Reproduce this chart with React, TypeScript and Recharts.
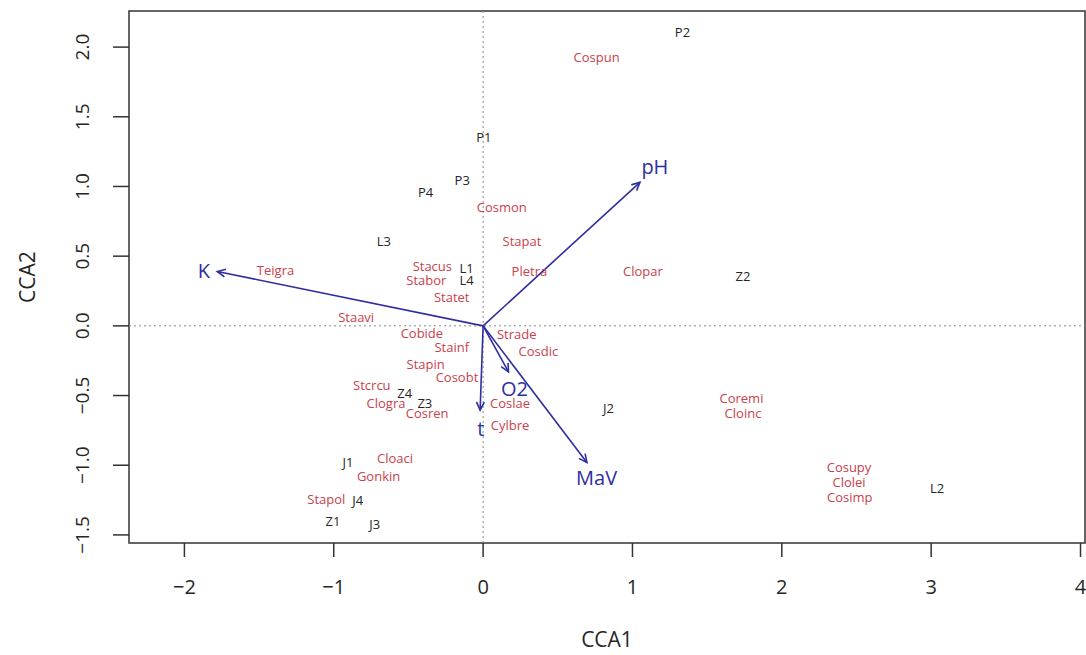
import { ReferenceArea, ReferenceLine, Scatter, ScatterChart, XAxis, YAxis } from 'recharts';

const X_DOMAIN: [number, number] = [-2.371, 4.03];
const Y_DOMAIN: [number, number] = [-1.558, 2.259];
const xTicks = [-2, -1, 0, 1, 2, 3, 4];
const yTicks = [-1.5, -1, -0.5, 0, 0.5, 1, 1.5, 2];

// species scores (red labels)
const species = [
  { name: 'Cospun', x: 0.76, y: 1.93 },
  { name: 'Cosmon', x: 0.125, y: 0.85 },
  { name: 'Stapat', x: 0.26, y: 0.61 },
  { name: 'Pletra', x: 0.31, y: 0.39 },
  { name: 'Clopar', x: 1.07, y: 0.39 },
  { name: 'Teigra', x: -1.39, y: 0.4 },
  { name: 'Stacus', x: -0.34, y: 0.43 },
  { name: 'Stabor', x: -0.38, y: 0.33 },
  { name: 'Statet', x: -0.21, y: 0.21 },
  { name: 'Staavi', x: -0.85, y: 0.06 },
  { name: 'Cobide', x: -0.41, y: -0.05 },
  { name: 'Stainf', x: -0.21, y: -0.155 },
  { name: 'Stapin', x: -0.385, y: -0.275 },
  { name: 'Cosobt', x: -0.175, y: -0.37 },
  { name: 'Stcrcu', x: -0.745, y: -0.425 },
  { name: 'Clogra', x: -0.65, y: -0.555 },
  { name: 'Cosren', x: -0.375, y: -0.625 },
  { name: 'Strade', x: 0.225, y: -0.06 },
  { name: 'Cosdic', x: 0.37, y: -0.18 },
  { name: 'Coslae', x: 0.18, y: -0.555 },
  { name: 'Cylbre', x: 0.18, y: -0.71 },
  { name: 'Coremi', x: 1.73, y: -0.52 },
  { name: 'Cloinc', x: 1.74, y: -0.625 },
  { name: 'Cosupy', x: 2.45, y: -1.01 },
  { name: 'Clolei', x: 2.45, y: -1.12 },
  { name: 'Cosimp', x: 2.455, y: -1.225 },
  { name: 'Cloaci', x: -0.59, y: -0.95 },
  { name: 'Gonkin', x: -0.7, y: -1.08 },
  { name: 'Stapol', x: -1.05, y: -1.245 },
];

// site scores (black labels)
const sites = [
  { name: 'P2', x: 1.335, y: 2.11 },
  { name: 'P1', x: 0.005, y: 1.355 },
  { name: 'P3', x: -0.14, y: 1.045 },
  { name: 'P4', x: -0.385, y: 0.96 },
  { name: 'L3', x: -0.665, y: 0.61 },
  { name: 'L1', x: -0.11, y: 0.415 },
  { name: 'L4', x: -0.11, y: 0.33 },
  { name: 'Z2', x: 1.74, y: 0.36 },
  { name: 'Z4', x: -0.525, y: -0.48 },
  { name: 'Z3', x: -0.39, y: -0.555 },
  { name: 'J2', x: 0.84, y: -0.59 },
  { name: 'L2', x: 3.04, y: -1.165 },
  { name: 'J1', x: -0.905, y: -0.98 },
  { name: 'J4', x: -0.84, y: -1.25 },
  { name: 'Z1', x: -1.005, y: -1.4 },
  { name: 'J3', x: -0.725, y: -1.42 },
];

// environmental vectors: arrow tip and label position
const vectors = [
  { name: 'K', x: -1.78, y: 0.39, lx: -1.87, ly: 0.4 },
  { name: 'pH', x: 1.05, y: 1.03, lx: 1.15, ly: 1.14 },
  { name: 'O2', x: 0.17, y: -0.33, lx: 0.21, ly: -0.45 },
  { name: 't', x: -0.02, y: -0.605, lx: -0.015, ly: -0.735 },
  { name: 'MaV', x: 0.695, y: -0.98, lx: 0.76, ly: -1.09 },
];

const vectorLabels = vectors.map((v) => ({ name: v.name, x: v.lx, y: v.ly }));

const FONT = '"Open Sans", "DejaVu Sans", sans-serif';
const RED = '#c9414c';
const BLUE = '#2e2ea0';
const INK = '#262626';

const fmt = (v: number, digits: number) => v.toFixed(digits).replace('-', '\u2212');

function makeLabel(color: string, size: number) {
  return (p: any) => (
    <text
      x={p.cx}
      y={p.cy}
      fill={color}
      fontSize={size}
      fontFamily={FONT}
      textAnchor="middle"
      dominantBaseline="central"
    >
      {p.payload.name}
    </text>
  );
}

function Arrow(p: any) {
  const { x1, y1, x2, y2 } = p;
  const a = Math.atan2(y2 - y1, x2 - x1);
  const len = 9;
  const spread = Math.PI / 7;
  const h1x = x2 - len * Math.cos(a - spread);
  const h1y = y2 - len * Math.sin(a - spread);
  const h2x = x2 - len * Math.cos(a + spread);
  const h2y = y2 - len * Math.sin(a + spread);
  return (
    <g>
      <line x1={x1} y1={y1} x2={x2} y2={y2} stroke={BLUE} strokeWidth={1.6} />
      <path
        d={`M${h1x},${h1y}L${x2},${y2}L${h2x},${h2y}`}
        fill="none"
        stroke={BLUE}
        strokeWidth={1.6}
      />
    </g>
  );
}

function YTick(p: any) {
  const { x, y, payload } = p;
  return (
    <text
      x={x}
      y={y}
      transform={`rotate(-90, ${x}, ${y})`}
      textAnchor="middle"
      fill={INK}
      fontSize={19}
      fontFamily={FONT}
    >
      {fmt(payload.value, 1)}
    </text>
  );
}

function YTitle(p: any) {
  const vb = p.viewBox;
  const cx = vb.x + 35;
  const cy = vb.y + vb.height / 2;
  return (
    <text
      x={cx}
      y={cy}
      transform={`rotate(-90, ${cx}, ${cy})`}
      textAnchor="middle"
      fill={INK}
      fontSize={21}
      fontFamily={FONT}
    >
      CCA2
    </text>
  );
}

function XTitle(p: any) {
  const vb = p.viewBox;
  return (
    <text
      x={vb.x + vb.width / 2}
      y={vb.y + 104}
      textAnchor="middle"
      fill={INK}
      fontSize={21}
      fontFamily={FONT}
    >
      CCA1
    </text>
  );
}

export default function App() {
  return (
    <div style={{ position: 'absolute', left: 0, top: 0, background: '#fff' }}>
      <ScatterChart width={1086} height={655} margin={{ top: 11, right: 1, left: 0, bottom: 0 }}>
        <XAxis
          type="number"
          dataKey="x"
          domain={X_DOMAIN}
          allowDataOverflow
          ticks={xTicks}
          interval={0}
          height={112}
          axisLine={false}
          tickSize={14}
          tickMargin={23}
          tickLine={{ stroke: '#333', strokeWidth: 1.5 }}
          tick={{ fill: INK, fontSize: 20, fontFamily: FONT }}
          tickFormatter={(v: number) => fmt(v, 0)}
          label={<XTitle />}
        />
        <YAxis
          type="number"
          dataKey="y"
          domain={Y_DOMAIN}
          allowDataOverflow
          ticks={yTicks}
          interval={0}
          width={129}
          axisLine={false}
          tickSize={16}
          tickMargin={24}
          tickLine={{ stroke: '#333', strokeWidth: 1.5 }}
          tick={<YTick />}
          label={<YTitle />}
        />
        <ReferenceArea
          x1={X_DOMAIN[0]}
          x2={X_DOMAIN[1]}
          y1={Y_DOMAIN[0]}
          y2={Y_DOMAIN[1]}
          fill="none"
          fillOpacity={0}
          stroke="#333"
          strokeWidth={1.5}
          ifOverflow="visible"
        />
        <ReferenceLine x={0} stroke="#888" strokeDasharray="2 3" />
        <ReferenceLine y={0} stroke="#888" strokeDasharray="2 3" />
        {vectors.map((v) => (
          <ReferenceLine
            key={v.name}
            segment={[
              { x: 0, y: 0 },
              { x: v.x, y: v.y },
            ]}
            shape={<Arrow />}
          />
        ))}
        <Scatter data={species} shape={makeLabel(RED, 13)} isAnimationActive={false} />
        <Scatter data={sites} shape={makeLabel(INK, 13)} isAnimationActive={false} />
        <Scatter data={vectorLabels} shape={makeLabel(BLUE, 20)} isAnimationActive={false} />
      </ScatterChart>
    </div>
  );
}
